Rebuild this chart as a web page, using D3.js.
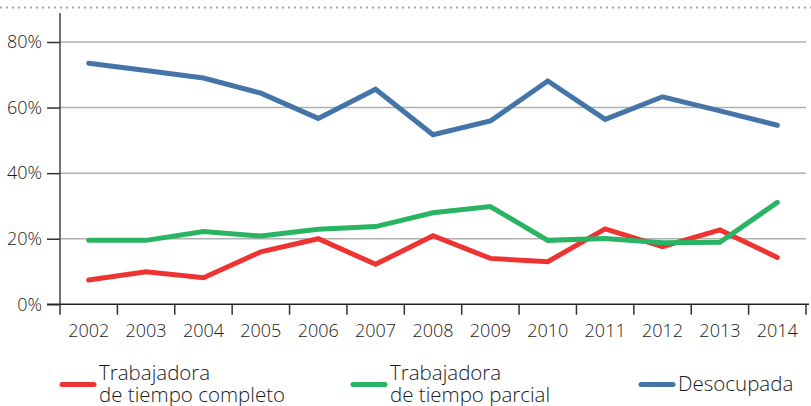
<!DOCTYPE html>
<html>
<head>
<meta charset="utf-8">
<script src="https://cdn.jsdelivr.net/npm/d3@7"></script>
<style>
  html, body { margin: 0; padding: 0; background: #fff; }
  svg { display: block; font-family: "Open Sans", Lato, sans-serif; font-weight: 350; }
</style>
</head>
<body>
<svg id="chart" width="811" height="406"></svg>
<script>
// Years on the horizontal axis
const years = ["2002","2003","2004","2005","2006","2007","2008","2009","2010","2011","2012","2013","2014"];
// Shares (in %) for each group
const tiempoCompleto = [7.4, 9.9, 8.1, 16.0, 20.0, 12.2, 20.9, 14.0, 13.0, 23.0, 17.6, 22.7, 14.3];
const tiempoParcial  = [19.5, 19.5, 22.2, 20.8, 22.9, 23.7, 27.9, 29.8, 19.5, 20.1, 18.8, 18.9, 31.1];
const desocupada     = [73.5, 71.3, 69.0, 64.4, 56.7, 65.6, 51.7, 55.9, 68.1, 56.4, 63.3, 59.0, 54.6];
// Vertical axis ticks
const yTicks = [0, 20, 40, 60, 80];
const seriesNames = [["Trabajadora", "de tiempo completo"], ["Trabajadora", "de tiempo parcial"], ["Desocupada"]];

const colors = ["#ee3432", "#28b462", "#4574a8"];
const seriesValues = [tiempoCompleto, tiempoParcial, desocupada];

const svg = d3.select("#chart");

const x = d3.scaleBand().domain(years).range([60, 806]);
const y = d3.scaleLinear().domain([0, 80]).range([304.3, 42]);

// Dotted rule along the top
svg.append("line")
  .attr("x1", 0).attr("x2", 811).attr("y1", 7.5).attr("y2", 7.5)
  .attr("stroke", "#a8a8a8").attr("stroke-width", 2)
  .attr("stroke-dasharray", "2,4");

// Horizontal gridlines
svg.append("g").selectAll("line")
  .data(yTicks.filter(d => d > 0))
  .join("line")
  .attr("x1", 60).attr("x2", 806)
  .attr("y1", d => y(d)).attr("y2", d => y(d))
  .attr("stroke", "#b0b0b0").attr("stroke-width", 1.5);

// Y axis
const yAxis = svg.append("g")
  .attr("transform", "translate(60,0)")
  .call(d3.axisLeft(y).tickValues(yTicks).tickSize(13).tickPadding(5).tickFormat(d => d + "%"));
yAxis.select(".domain").remove();
yAxis.selectAll(".tick line").attr("stroke", "#333").attr("stroke-width", 1.5);
yAxis.selectAll("text").attr("font-size", 18).attr("fill", "#1a1a1a")
  .attr("font-family", "'Open Sans', sans-serif").attr("font-weight", 350);
svg.append("line")
  .attr("x1", 60).attr("x2", 60).attr("y1", 13).attr("y2", 304.3)
  .attr("stroke", "#444").attr("stroke-width", 1.5);

// X axis with ticks at band boundaries
const xAxisG = svg.append("g").attr("transform", "translate(0,304.3)");
xAxisG.append("line")
  .attr("x1", 47).attr("x2", 809).attr("y1", 0).attr("y2", 0)
  .attr("stroke", "#222").attr("stroke-width", 1.5);
const boundaries = years.map(d => x(d)).concat([x(years[years.length - 1]) + x.bandwidth()]);
xAxisG.selectAll("line.tk")
  .data(boundaries)
  .join("line").attr("class", "tk")
  .attr("x1", d => d).attr("x2", d => d)
  .attr("y1", 0).attr("y2", 10.5)
  .attr("stroke", "#333").attr("stroke-width", 1.5);
xAxisG.selectAll("text")
  .data(years)
  .join("text")
  .attr("x", d => x(d) + x.bandwidth() / 2)
  .attr("y", 33)
  .attr("text-anchor", "middle")
  .attr("font-size", 18)
  .attr("fill", "#1a1a1a")
  .text(d => d);

// Series lines
const line = d3.line()
  .x((d, i) => x(years[i]) + x.bandwidth() / 2)
  .y(d => y(d));

svg.append("g").selectAll("path")
  .data(seriesValues)
  .join("path")
  .attr("d", d => line(d))
  .attr("fill", "none")
  .attr("stroke", (d, i) => colors[i])
  .attr("stroke-width", 5)
  .attr("stroke-linejoin", "miter")
  .attr("stroke-linecap", "round");

// Legend
const legendX = [62, 353, 641];
const legend = svg.append("g").selectAll("g")
  .data(seriesNames)
  .join("g")
  .attr("transform", (d, i) => `translate(${legendX[i]},384.5)`);
legend.append("line")
  .attr("x1", 0).attr("x2", 32).attr("y1", 0).attr("y2", 0)
  .attr("stroke", (d, i) => colors[i])
  .attr("stroke-width", 5).attr("stroke-linecap", "round");
legend.each(function(d) {
  const g = d3.select(this);
  const rows = d.length === 1 ? [[d[0], 6.5]] : [[d[0], -4.5], [d[1], 17]];
  rows.forEach(([txt, dy]) => {
    g.append("text")
      .attr("x", 37).attr("y", dy)
      .attr("font-size", 20.5)
      .attr("fill", "#1a1a1a")
      .text(txt);
  });
});
</script>
</body>
</html>
